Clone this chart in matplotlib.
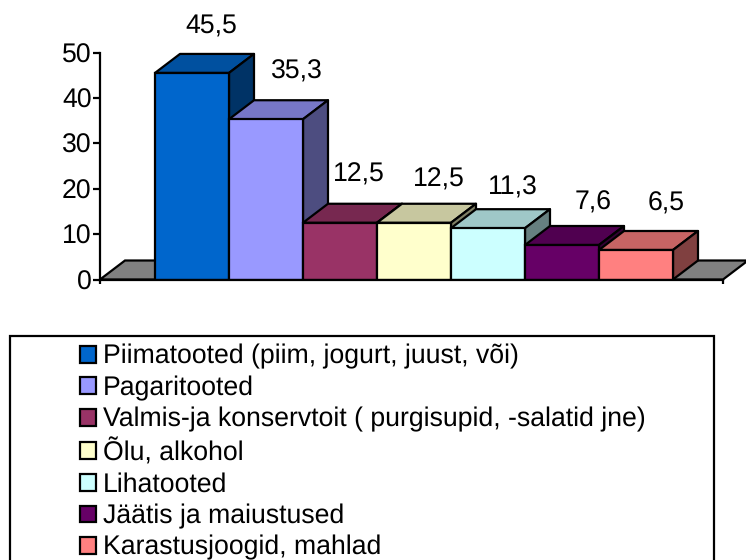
import matplotlib
matplotlib.use('Agg')
import matplotlib.pyplot as plt
from matplotlib.patches import Patch, Rectangle

plt.rcParams['font.family'] = ['Liberation Sans', 'DejaVu Sans']
plt.rcParams['text.hinting'] = 'no_hinting'

categories = ['Piimatooted (piim, jogurt, juust, või)', 'Pagaritooted',
              'Valmis-ja konservtoit ( purgisupid, -salatid jne)', 'Õlu, alkohol',
              'Lihatooted', 'Jäätis ja maiustused', 'Karastusjoogid, mahlad']
values = [45.5, 35.3, 12.5, 12.5, 11.3, 7.6, 6.5]
value_labels = ['45,5', '35,3', '12,5', '12,5', '11,3', '7,6', '6,5']
colors = ['#0066CC', '#9999FF', '#993366', '#FFFFCC', '#CCFFFF', '#660066', '#FF8080']

# label offsets from the middle of the bar top, in pixels
label_dx = [19, 31, 19, 25, 25, 31, 30]
label_dy = [46, 48, 48, 43, 41, 42, 46]

W, H = 746, 560
FS = 19.15
# depth of the fake 3d, in bar widths and value units
dx = 25 / 74
dy = 19 / 4.54


def shade(c, f):
    r, g, b = matplotlib.colors.to_rgb(c)
    return (r * f, g * f, b * f)


fig = plt.figure(figsize=(W / 100, H / 100), dpi=100)
ax = fig.add_axes([100 / W, (H - 279.5) / H, 623 / W, 227 / H])
ax.set_xlim(-55 / 74, 568 / 74)
ax.set_ylim(0, 50)
ax.patch.set_visible(False)

lw = 1.6
# floor
x0, x1 = ax.get_xlim()
ax.fill([x0, x1, x1 + dx, x0 + dx], [0, 0, dy, dy], facecolor='#808080',
        edgecolor='black', lw=lw, clip_on=False, zorder=1)

for i, v in enumerate(values):
    z = 2 + i
    ax.fill([i, i + 1, i + 1 + dx, i + dx], [v, v, v + dy, v + dy],
            facecolor=shade(colors[i], 0.78), edgecolor='black', lw=lw,
            clip_on=False, zorder=z, joinstyle='round')
    ax.fill([i + 1, i + 1 + dx, i + 1 + dx, i + 1], [0, dy, v + dy, v],
            facecolor=shade(colors[i], 0.5), edgecolor='black', lw=lw,
            clip_on=False, zorder=z, joinstyle='round')
    ax.bar(i + 0.5, v, width=1, color=colors[i], edgecolor='black', lw=lw,
           zorder=z + 0.5)
    ax.annotate(value_labels[i], (i + 0.5, v), xytext=(label_dx[i], label_dy[i]),
                textcoords='offset pixels', ha='center', va='center',
                fontsize=FS, color='black', annotation_clip=False, zorder=20)

for s in ['top', 'right']:
    ax.spines[s].set_visible(False)
for s in ['left', 'bottom']:
    ax.spines[s].set_linewidth(lw)
    ax.spines[s].set_zorder(15)
ax.set_yticks([0, 10, 20, 30, 40, 50])
ax.set_xticks([x0, x1])
ax.set_xticklabels([])
ax.tick_params(axis='y', labelsize=FS, width=lw, length=5, pad=1, direction='out')
ax.tick_params(axis='x', width=lw, length=3)

# legend frame runs off the bottom of the picture
fig.add_artist(Rectangle((10 / W, -0.02), 704 / W, (H - 336) / H + 0.02, transform=fig.transFigure,
                         facecolor='white', edgecolor='black', lw=lw))
handles = [Patch(facecolor=c, edgecolor='black', lw=lw) for c in colors]
fig.legend(handles, categories, loc='upper left', bbox_to_anchor=(80 / W, (H - 344) / H),
           frameon=False, fontsize=FS, labelspacing=0.24, handlelength=0.6, handleheight=0.6,
           handletextpad=0.25, borderpad=0, borderaxespad=0)

fig.savefig('out.png', dpi=100)
